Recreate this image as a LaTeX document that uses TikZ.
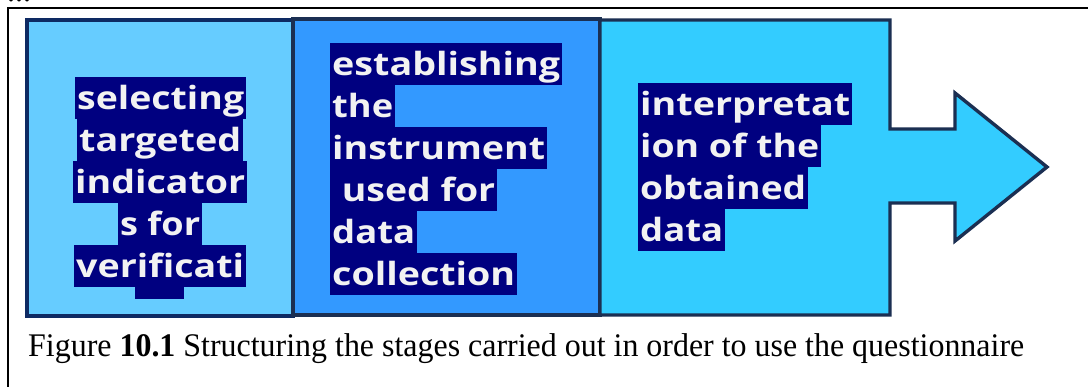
\documentclass[tikz,border=0pt]{standalone}
\usepackage{fontspec}
\usepackage{graphicx}
\setmainfont{Liberation Serif}
\newfontfamily\hlfont{Open Sans}
\definecolor{boxA}{HTML}{66CCFF}
\definecolor{boxB}{HTML}{3399FF}
\definecolor{boxC}{HTML}{33CCFF}
\definecolor{edgeA}{HTML}{0E2A63}
\definecolor{edgeB}{HTML}{1B2F52}
\definecolor{hlnavy}{HTML}{000080}
\newcommand\hlline[5]{\node[hlbox] (#1) at (#2,#3) {\resizebox{#4pt}{\height}{#5}};}
\begin{document}
\begin{tikzpicture}[x=1pt,y=-1pt,
  stagebox/.style={line width=3.4pt, line join=miter},
  hlbox/.style={fill=hlnavy, text=white!95!black, inner xsep=2pt, inner ysep=0pt,
    text height=32pt, text depth=10pt, anchor=north west,
    font=\hlfont\bfseries\fontsize{32}{32}\selectfont},
  frameline/.style={line width=1.3pt, black}]
\clip (0,0) rectangle (1088,387);
\useasboundingbox (0,0) rectangle (1088,387);
\fill[white] (0,0) rectangle (1088,387);
% frame
\coordinate (fbl) at (8,390);
\coordinate (ftl) at (8,8);
\coordinate (ftr) at (1090,8);
\draw[frameline] (fbl) -- (ftl) -- (ftr);
\node[anchor=base west, inner sep=0pt, font=\fontsize{32}{32}\selectfont] (dots) at (7,2) {...};
% boxes
\draw[stagebox, fill=boxA, draw=edgeA] (27,20) rectangle (293,316);
\draw[stagebox, fill=boxB, draw=edgeB] (293,19) rectangle (600,315);
\draw[stagebox, fill=boxC, draw=edgeB] (600,20) -- (890,20) -- (890,129) -- (955,129) -- (955,93)
  -- (1047,167) -- (955,241) -- (955,203) -- (890,203) -- (890,315) -- (600,315) -- cycle;
% box 1 text (centred)
\hlline{a1}{75}{77}{167}{selecting}
\hlline{a2}{77}{119}{162}{targeted}
\hlline{a3}{73}{161}{170}{indicator}
\hlline{a4}{118}{203}{80}{s for}
\hlline{a5}{74}{245}{168}{verificati}
\fill[hlnavy] (135,287) rectangle (184,299);
% box 2 text
\hlline{b1}{330}{43}{228}{establishing}
\hlline{b2}{330}{85}{61}{the}
\hlline{b3}{330}{127}{213}{instrument}
\hlline{b4}{330}{169}{163}{\ used for}
\hlline{b5}{330}{211}{83}{data}
\hlline{b6}{330}{253}{183}{collection}
% box 3 text
\hlline{c1}{638}{83}{210}{interpretat}
\hlline{c2}{638}{125}{179}{ion of the}
\hlline{c3}{638}{167}{166}{obtained}
\hlline{c4}{638}{209}{83}{data}
% caption
\node[anchor=base west, inner sep=0pt, font=\fontsize{33}{33}\selectfont] (cap) at (28,357)
  {\resizebox{996pt}{\height}{Figure \textbf{10.1} Structuring the stages carried out in order to use the questionnaire}};
\end{tikzpicture}
\end{document}
